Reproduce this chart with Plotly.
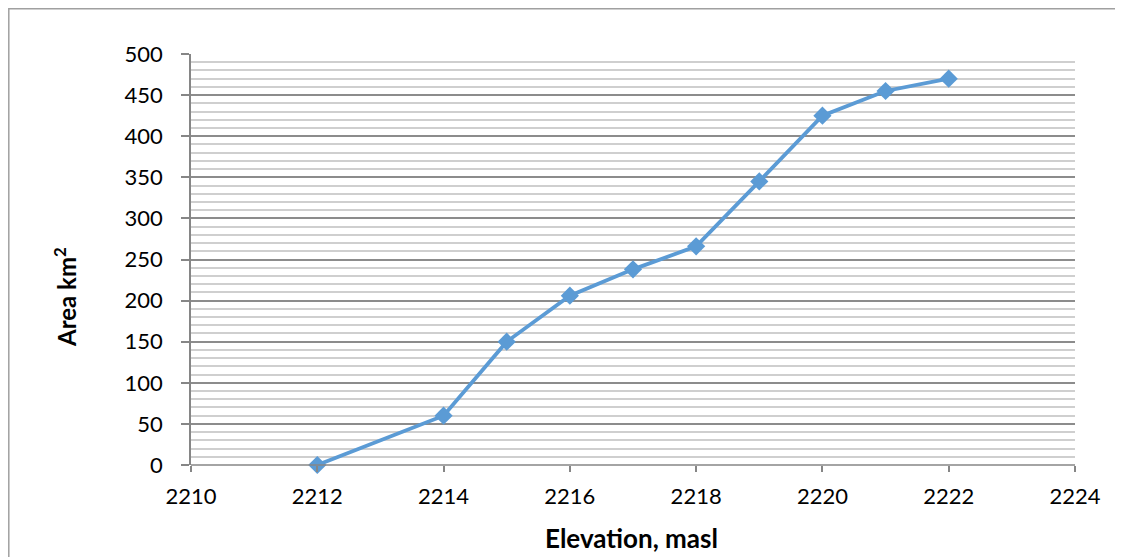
import plotly.graph_objects as go

elevation = [2212, 2214, 2215, 2216, 2217, 2218, 2219, 2220, 2221, 2222]
area = [0, 60, 150, 206, 238, 266, 345, 425, 455, 470]

x_ticks = [2210, 2212, 2214, 2216, 2218, 2220, 2222, 2224]
y_ticks = [0, 50, 100, 150, 200, 250, 300, 350, 400, 450, 500]

FONT = "Lato"
OFF = 8  # page body offset
W, H = 1123 - OFF, 557 - OFF
L, T = 191 - OFF, 54 - OFF
R = W - (1075 - OFF)
B = H - (465 - OFF)
pw, ph = W - L - R, H - T - B


def px_x(p):
    return (p - L) / pw


def px_y(p):
    return (H - B - p) / ph


fig = go.Figure()
fig.add_trace(go.Scatter(
    x=elevation, y=area, mode="lines+markers",
    line=dict(color="#5B9BD5", width=3.8),
    marker=dict(symbol="diamond", size=14, color="#5B9BD5"),
    showlegend=False, cliponaxis=False,
))

fig.update_layout(
    width=W, height=H,
    margin=dict(l=L, r=R, t=T, b=B, pad=0, autoexpand=False),
    paper_bgcolor="white", plot_bgcolor="white",
    font=dict(family=FONT, size=22, color="#000000"),
    xaxis=dict(
        range=[2210, 2224], tickvals=x_ticks, ticktext=[str(v) for v in x_ticks],
        showgrid=False, zeroline=False, automargin=False,
        showline=False,
        ticks="outside", ticklen=6, tickcolor="#868686", tickwidth=1.5,
        ticklabelstandoff=6,
    ),
    yaxis=dict(
        range=[0, 500], tickvals=y_ticks, ticktext=[str(v) for v in y_ticks],
        showgrid=True, gridcolor="#8c8c8c", gridwidth=1.5, automargin=False,
        zeroline=False, showline=True, linecolor="#868686", linewidth=1.5,
        ticks="outside", ticklen=8, tickcolor="#868686", tickwidth=1.5,
        ticklabelstandoff=14,
        minor=dict(dtick=10, showgrid=True, gridcolor="#cfcfcf", gridwidth=1.5),
    ),
)

# x axis title
fig.add_annotation(
    text="<b>Elevation, masl</b>",
    xref="paper", yref="paper", x=px_x(631 - OFF), y=px_y(538 - OFF),
    xanchor="center", yanchor="middle", showarrow=False,
    font=dict(family=FONT, size=26, color="#000000"),
)

# y axis title (placed lower than centre, as in the reference)
fig.add_annotation(
    text="<b>Area km<sup>2</sup></b>", textangle=-90,
    xref="paper", yref="paper", x=px_x(65 - OFF), y=px_y(297 - OFF),
    xanchor="center", yanchor="middle", showarrow=False,
    font=dict(family=FONT, size=24, color="#000000"),
)

# x axis baseline
fig.add_shape(type="line", xref="paper", yref="paper", x0=0, x1=1, y0=0, y1=0,
              line=dict(color="#868686", width=1.5))

# outer chart border
fig.add_shape(type="rect", xref="paper", yref="paper",
              x0=px_x(0.8), x1=px_x(W + 20), y0=px_y(0.8), y1=px_y(H + 20),
              line=dict(color="#a0a0a0", width=1.5), fillcolor="rgba(0,0,0,0)", layer="below")

fig.write_html("out.html")
